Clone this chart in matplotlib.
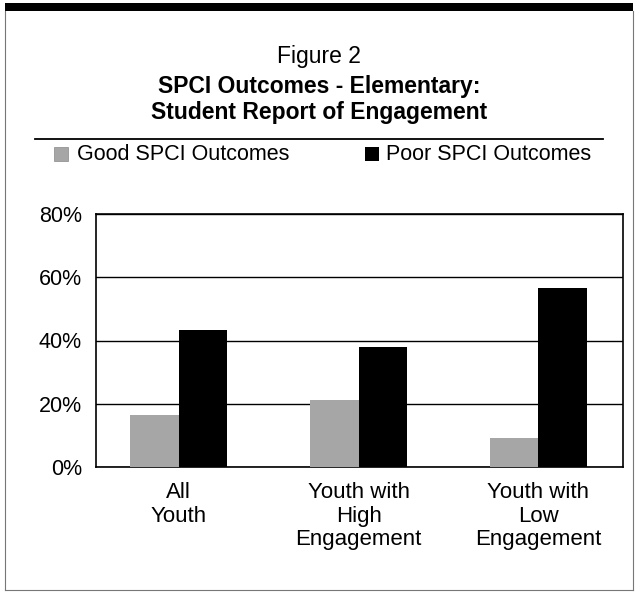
import numpy as np
import matplotlib.pyplot as plt
from matplotlib.lines import Line2D
from matplotlib.patches import Rectangle

plt.rcParams['font.family'] = ['Liberation Sans', 'DejaVu Sans']

# Data
categories = ["All\nYouth", "Youth with\nHigh\nEngagement", "Youth with\nLow\nEngagement"]
good_outcomes = [16.5, 21.3, 9.3]   # % Good SPCI Outcomes
poor_outcomes = [43.4, 37.8, 56.6]  # % Poor SPCI Outcomes
y_ticks = [0, 20, 40, 60, 80]

W, H = 638, 595
fig = plt.figure(figsize=(W / 100, H / 100), dpi=100)

def fx(px):
    return px / W

def fy(py):
    return 1 - py / H

GRAY = "#a6a6a6"

# Page frame: heavy rule on top, thin grey lines around
fig.add_artist(Rectangle((fx(5), fy(11)), fx(628), 8 / H, transform=fig.transFigure,
                         color="black", lw=0))
for xs, ys in [([5, 5], [11, 590]), ([633, 633], [11, 590]), ([5, 633], [590, 590])]:
    fig.add_artist(Line2D([fx(x) for x in xs], [fy(y) for y in ys],
                          transform=fig.transFigure, color="#777777", lw=0.8))

# Title block
fig.text(0.5, fy(57), "Figure 2", ha="center", va="center", fontsize=16.5)
fig.text(0.5, fy(86), "SPCI Outcomes - Elementary:", ha="center", va="center",
         fontsize=16.5, fontweight="bold")
fig.text(0.5, fy(112), "Student Report of Engagement", ha="center", va="center",
         fontsize=16.5, fontweight="bold")
fig.add_artist(Line2D([fx(35), fx(603)], [fy(139), fy(139)], transform=fig.transFigure,
                      color="black", lw=1.3))

# Legend
fig.add_artist(Rectangle((fx(54), fy(161)), 14 / W, 14 / H, transform=fig.transFigure,
                         facecolor=GRAY, edgecolor="#888888", lw=0.5))
fig.text(fx(77), fy(154), "Good SPCI Outcomes", ha="left", va="center", fontsize=15.5)
fig.add_artist(Rectangle((fx(365), fy(161)), 14 / W, 14 / H, transform=fig.transFigure,
                         facecolor="black", lw=0))
fig.text(fx(386), fy(154), "Poor SPCI Outcomes", ha="left", va="center", fontsize=15.5)

# Chart area
ax = fig.add_axes([fx(96), fy(467), fx(623) - fx(96), (467 - 214) / H])
x = np.arange(len(categories))
w = 0.27
ax.bar(x - w / 2, good_outcomes, w, color=GRAY, edgecolor="none", zorder=3)
ax.bar(x + w / 2, poor_outcomes, w, color="black", edgecolor="none", zorder=3)

ax.set_xlim(-0.46, 2.47)
ax.set_ylim(0, 80)
ax.set_yticks(y_ticks)
ax.set_yticklabels([f"{v}%" for v in y_ticks], fontsize=15.5)
ax.set_xticks(x)
ax.set_xticklabels(categories, fontsize=16, linespacing=1.15)
ax.tick_params(axis="both", length=0)
ax.tick_params(axis="y", pad=10)
ax.tick_params(axis="x", pad=11)
ax.yaxis.grid(True, color="black", lw=1.0, zorder=0)
for s in ax.spines.values():
    s.set_color("black")
    s.set_linewidth(1.2)

fig.savefig("out.png", dpi=100)
